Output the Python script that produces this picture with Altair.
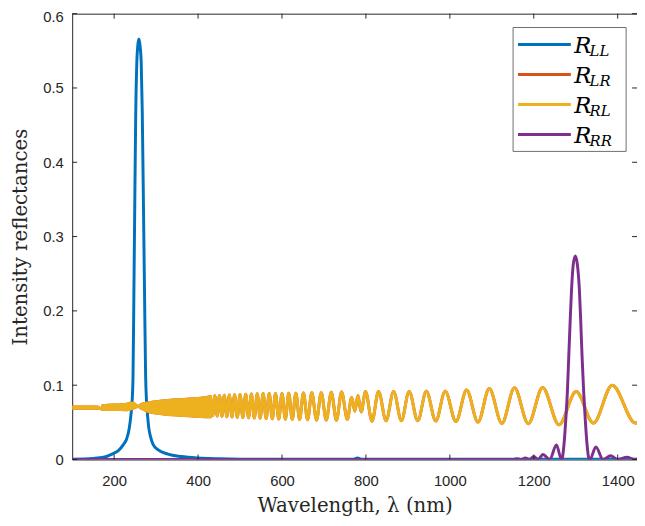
import altair as alt
import pandas as pd

# ---------------- data ----------------
x_ticks = [200, 400, 600, 800, 1000, 1200, 1400]
y_ticks = [0, 0.1, 0.2, 0.3, 0.4, 0.5, 0.6]

LL_nm = [100, 150, 175, 195, 210, 222, 230, 236, 240, 243, 245, 247, 249, 251.5, 254, 256.5,
         259, 261.5, 264.5, 267, 270, 272.5, 275, 277, 279, 282, 287, 293, 305, 328, 360,
         400, 450, 500, 600, 770, 780, 790, 900, 1446]
LL_val = [0.0005, 0.0015, 0.003, 0.0073, 0.012, 0.020, 0.028, 0.042, 0.060, 0.080, 0.113,
          0.22, 0.335, 0.468, 0.534, 0.558, 0.566, 0.558, 0.534, 0.468, 0.335, 0.22, 0.113,
          0.080, 0.064, 0.045, 0.030, 0.020, 0.013, 0.0073, 0.004, 0.002, 0.001, 0.0005,
          0.0003, 0.0003, 0.002, 0.0003, 0.0002, 0.0002]

RR_nm = [100, 1100, 1150, 1160, 1170, 1180, 1190, 1200, 1210, 1222, 1238, 1254, 1266, 1268,
         1272, 1276, 1280, 1283.5, 1287, 1290, 1294, 1299, 1304, 1308.7, 1312, 1315, 1319,
         1323, 1327, 1331, 1334, 1348, 1365, 1383, 1400, 1422, 1440, 1446]
RR_val = [0, 0, 0, 0.001, 0, 0.002, 0, 0.004, 0, 0.0066, 0, 0.0195, 0, 0.002, 0.02, 0.051,
          0.09, 0.14, 0.19, 0.2285, 0.262, 0.274, 0.262, 0.2285, 0.185, 0.14, 0.09, 0.051,
          0.02, 0.002, 0, 0.017, 0, 0.005, 0, 0.003, 0, 0.0005]

# dense (unresolved) part of R_RL: outer edges of the band
band_nm = [100, 160, 165, 168, 171, 200, 230, 240, 250, 257, 264, 281, 300, 328, 352, 380, 406, 432]
band_hi = [0.0727, 0.0727, 0.0715, 0.0706, 0.0745, 0.0752, 0.0765, 0.0782, 0.0765, 0.0738,
           0.0760, 0.0780, 0.0797, 0.0815, 0.0824, 0.0835, 0.0846, 0.0868]
band_lo = [0.0668, 0.0668, 0.0666, 0.0664, 0.0655, 0.0651, 0.0650, 0.0660, 0.0680, 0.0692,
           0.0670, 0.0625, 0.0605, 0.0587, 0.0580, 0.0568, 0.0558, 0.0555]

# resolved part of R_RL (= R_LR): successive maxima / minima
RL_nm = [429.5, 434.8, 440, 445.5, 451, 456.8, 462.5, 468.5, 474.5, 480.8, 487, 493.5, 500,
         506.8, 513.5, 520.3, 527, 534, 541, 548, 555, 562.3, 569.5, 577, 584.5, 592.3, 600,
         608, 616, 624.5, 633, 642, 651, 661, 671, 682.3, 693.5, 705.5, 717.5, 729.8, 742,
         755.7, 766, 773.6, 781, 788.6, 799, 814.5, 830, 848, 866, 884.5, 903, 923.5, 944,
         966.5, 989, 1014.5, 1040, 1067, 1094, 1124, 1154, 1187, 1221, 1260, 1301, 1342,
         1387, 1442, 1446]
RL_val = [0.0855, 0.0590, 0.0858, 0.0585, 0.0862, 0.0580, 0.0865, 0.0576, 0.0868, 0.0572,
          0.0872, 0.0568, 0.0875, 0.0564, 0.0878, 0.0560, 0.0881, 0.0557, 0.0884, 0.0554,
          0.0887, 0.0551, 0.0888, 0.0548, 0.0889, 0.0545, 0.0890, 0.0542, 0.0891, 0.0540,
          0.0893, 0.0537, 0.0895, 0.0535, 0.0897, 0.0532, 0.0900, 0.0530, 0.0905, 0.0527,
          0.0910, 0.0540, 0.0835, 0.0650, 0.0860, 0.0640, 0.0915, 0.0515, 0.0917, 0.0522,
          0.0917, 0.0522, 0.0917, 0.0520, 0.0918, 0.0518, 0.0920, 0.0512, 0.0935, 0.0503,
          0.0955, 0.0485, 0.0965, 0.0481, 0.0968, 0.0468, 0.0914, 0.0490, 0.1000, 0.0490,
          0.0491]

legend_subs = ["LL", "LR", "RL", "RR"]
colors = ["#0072BD", "#D95319", "#EDB120", "#7E2F8E"]

# ---------------- layout ----------------
W = 572
H = 451.5
AX = "#262626"
LW = 3
SERIF = "DejaVu Serif"

df_LL = pd.DataFrame({"nm": LL_nm, "val": LL_val})
df_RR = pd.DataFrame({"nm": RR_nm, "val": RR_val})
df_RL = pd.DataFrame({"nm": RL_nm, "val": RL_val})
df_band = pd.DataFrame({"nm": band_nm, "val": band_hi, "lo": band_lo})
df_xt = pd.DataFrame({"nm": x_ticks})
df_yt = pd.DataFrame({"val": y_ticks})
one = pd.DataFrame({"k": [0]})

xs = alt.Scale(domain=[100, 1446], nice=False, zero=False)
ys = alt.Scale(domain=[0, 0.6], nice=False, zero=False)
X = alt.X("nm:Q", scale=xs,
          axis=alt.Axis(values=x_ticks, format="d", title="Wavelength, λ (nm)",
                        labelPadding=14, titlePadding=8, labelFlush=False))
Y = alt.Y("val:Q", scale=ys,
          axis=alt.Axis(values=y_ticks, format=".1~f", title="Intensity reflectances",
                        labelPadding=9, titlePadding=12,
                        labelOffset={"condition": {"test": "datum.value >= 0.59", "value": 3},
                                     "value": 0}))


def line(df, color):
    return alt.Chart(df).mark_line(color=color, strokeWidth=LW, interpolate="monotone",
                                   clip=True).encode(x=X, y=Y)


blue = line(df_LL, colors[0])
orange_band = alt.Chart(df_band).mark_area(color=colors[1], interpolate="monotone").encode(
    x=X, y=Y, y2="lo:Q")
orange = line(df_RL, colors[1])
yellow_band = alt.Chart(df_band).mark_area(color=colors[2], interpolate="monotone").encode(
    x=X, y=Y, y2="lo:Q")
yellow = line(df_RL, colors[2])
purple = line(df_RR, colors[3])

tick_b = alt.Chart(df_xt).mark_rule(color=AX, strokeWidth=1).encode(
    x=X, y=alt.value(H), y2=alt.value(H - 5))
tick_t = alt.Chart(df_xt).mark_rule(color=AX, strokeWidth=1).encode(
    x=X, y=alt.value(0), y2=alt.value(5))
tick_l = alt.Chart(df_yt).mark_rule(color=AX, strokeWidth=1).encode(
    y=Y, x=alt.value(0), x2=alt.value(5))
tick_r = alt.Chart(df_yt).mark_rule(color=AX, strokeWidth=1).encode(
    y=Y, x=alt.value(W - 5), x2=alt.value(W))
top_spine = alt.Chart(one).mark_rule(color=AX, strokeWidth=1).encode(
    x=alt.value(0), x2=alt.value(W), y=alt.value(0.5))

# legend (drawn by hand so the subscripts can be real subscripts)
leg = [alt.Chart(one).mark_rect(fill="white", stroke="#6e6e6e", strokeWidth=1).encode(
    x=alt.value(446.5), x2=alt.value(561), y=alt.value(14), y2=alt.value(139.5))]
for i, (sub, c) in enumerate(zip(legend_subs, colors)):
    yr = 31.2 + i * 30.4
    leg.append(alt.Chart(one).mark_rule(color=c, strokeWidth=LW).encode(
        x=alt.value(451.5), x2=alt.value(505), y=alt.value(yr)))
    leg.append(alt.Chart(one).mark_text(text="R", font=SERIF, fontStyle="italic",
                                        fontSize=23, align="left", baseline="alphabetic",
                                        color="black").encode(
        x=alt.value(508.5), y=alt.value(yr + 8.5)))
    leg.append(alt.Chart(one).mark_text(text=sub, font=SERIF, fontStyle="italic",
                                        fontSize=15, align="left", baseline="alphabetic",
                                        color="black").encode(
        x=alt.value(524), y=alt.value(yr + 11.5)))

chart = alt.layer(
    blue, orange_band, orange, yellow_band, yellow, purple,
    tick_b, tick_t, tick_l, tick_r, top_spine, *leg
).properties(
    width=W, height=H,
    padding={"left": 65, "top": 2.5, "right": 0, "bottom": 55},
    autosize=alt.AutoSizeParams(type="none"),
).configure_view(strokeWidth=0).configure_axis(
    grid=False, ticks=False, domainColor=AX, domainWidth=1,
    labelColor=AX, labelFont="Liberation Sans", labelFontSize=15,
    titleColor=AX, titleFont=SERIF, titleFontSize=20, titleFontWeight="normal",
)

chart.save("out.html", embed_options={"renderer": "svg", "actions": False})
